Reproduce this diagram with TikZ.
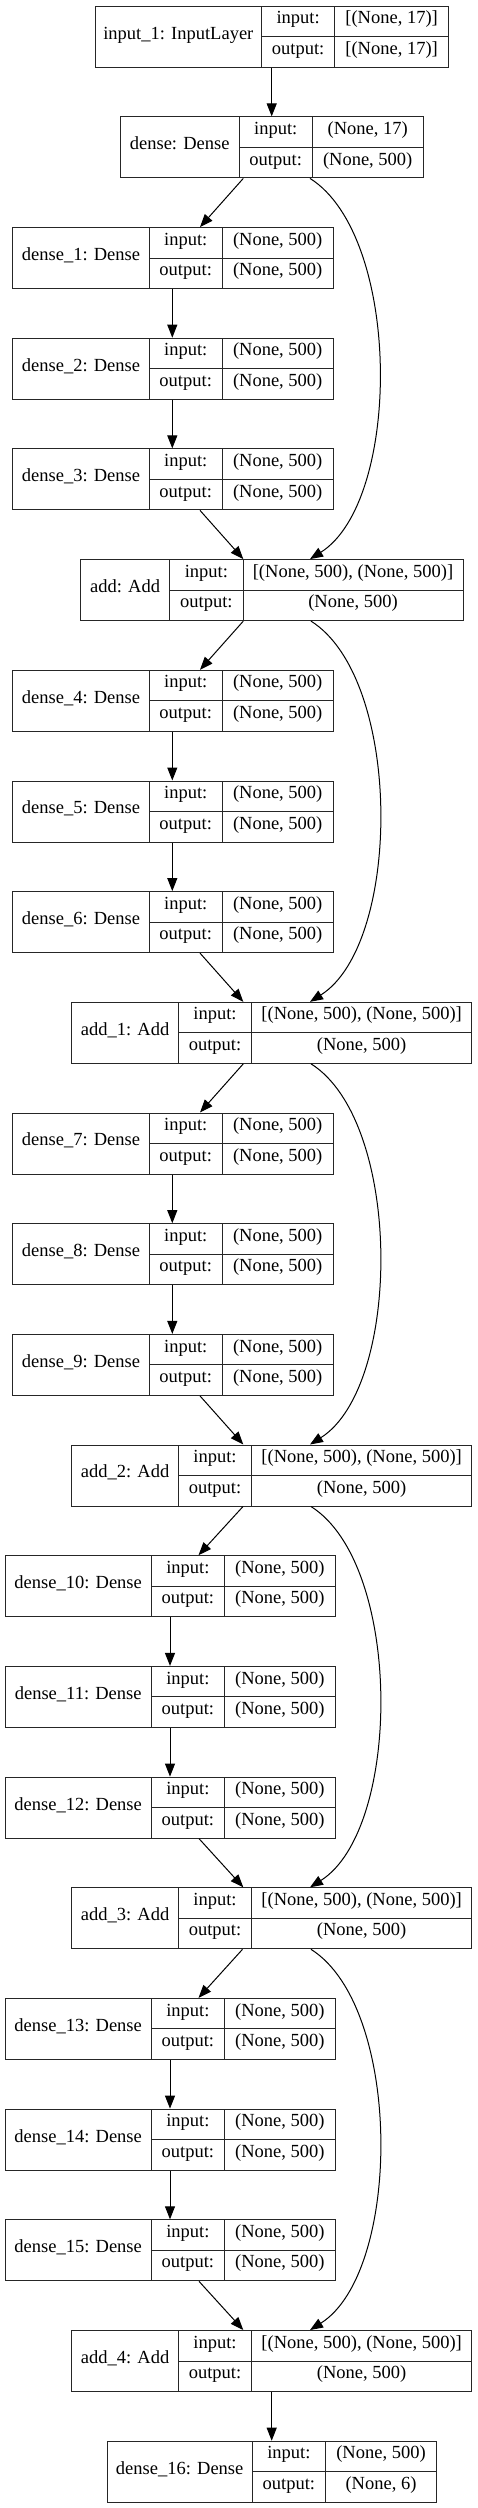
\documentclass[tikz,border=0pt]{standalone}
\usepackage{fontspec}
\setmainfont{Liberation Serif}
\usetikzlibrary{arrows.meta}
\tikzset{
  cell/.style={draw=black!85, line width=1pt, inner sep=0pt,
    font=\fontsize{18.5}{20}\selectfont, text height=0.7em, text depth=0.22em},
  arr/.style={draw=black, line width=1pt, -{Triangle[length=13pt,width=10pt]}},
}
% #1 id, #2 top, #3 x0, #4 x1, #5 x2, #6 x3, #7 label, #8 input, #9 output
\newcommand\klayer[9]{%
  \node[cell, minimum width={#4-#3}, minimum height=61, anchor=north west] (#1) at (#3,#2) {#7};
  \node[cell, minimum width={#5-#4}, minimum height=30.5, anchor=north west] (#1-il) at (#4,#2) {input:};
  \node[cell, minimum width={#5-#4}, minimum height=30.5, anchor=north west] (#1-ol) at (#4,#2+30.5) {output:};
  \node[cell, minimum width={#6-#5}, minimum height=30.5, anchor=north west] (#1-iv) at (#5,#2) {#8};
  \node[cell, minimum width={#6-#5}, minimum height=30.5, anchor=north west] (#1-ov) at (#5,#2+30.5) {#9};
}
\newcommand\denseA[3]{\klayer{#1}{#2}{12.3}{148.7}{221.7}{332.7}{#3}{(None, 500)}{(None, 500)}}
\newcommand\denseB[3]{\klayer{#1}{#2}{4.7}{150.7}{224}{334.7}{#3}{(None, 500)}{(None, 500)}}
\newcommand\addK[3]{\klayer{#1}{#2}{71.3}{178}{251}{471.3}{#3}{[(None, 500), (None, 500)]}{(None, 500)}}
\begin{document}
\begin{tikzpicture}[x=1pt, y=-1pt]
\useasboundingbox (0,0) rectangle (477,2508);
\klayer{in1}{5.7}{94.7}{261}{334.3}{448}{input\_1: InputLayer}{[(None, 17)]}{[(None, 17)]}
\klayer{d0}{116.4}{119.7}{238.7}{311.7}{422.7}{dense: Dense}{(None, 17)}{(None, 500)}
\denseA{d1}{227.1}{dense\_1: Dense}
\denseA{d2}{337.7}{dense\_2: Dense}
\denseA{d3}{448.4}{dense\_3: Dense}
\klayer{a0}{559.1}{80}{169.3}{242.5}{462.5}{add: Add}{[(None, 500), (None, 500)]}{(None, 500)}
\denseA{d4}{669.8}{dense\_4: Dense}
\denseA{d5}{780.5}{dense\_5: Dense}
\denseA{d6}{891.1}{dense\_6: Dense}
\addK{a1}{1001.8}{add\_1: Add}
\denseA{d7}{1112.5}{dense\_7: Dense}
\denseA{d8}{1223.2}{dense\_8: Dense}
\denseA{d9}{1333.9}{dense\_9: Dense}
\addK{a2}{1444.5}{add\_2: Add}
\denseB{d10}{1555.2}{dense\_10: Dense}
\denseB{d11}{1665.9}{dense\_11: Dense}
\denseB{d12}{1776.6}{dense\_12: Dense}
\addK{a3}{1887.3}{add\_3: Add}
\denseB{d13}{1997.9}{dense\_13: Dense}
\denseB{d14}{2108.6}{dense\_14: Dense}
\denseB{d15}{2219.3}{dense\_15: Dense}
\addK{a4}{2330.0}{add\_4: Add}
\klayer{d16}{2440.7}{106.7}{251.7}{325}{436}{dense\_16: Dense}{(None, 500)}{(None, 6)}
% connectors
\draw[arr] (in1-ol.south -| 271.7,0) -- (d0-il.north -| 271.7,0);
\draw[arr] (d0-ol.south -| 243.3,0) -- (d1-il.north -| 200,0);
\draw[arr] (d0-ov.south -| 310,0) .. controls +(92,58) and +(92,-58) .. (a0-iv.north -| 310,0);
\draw[arr] (d1-ol.south -| 172.3,0) -- (d2-il.north -| 172.3,0);
\draw[arr] (d2-ol.south -| 172.3,0) -- (d3-il.north -| 172.3,0);
\draw[arr] (d3-ol.south -| 200,0) -- (a0-iv.north -| 243.3,0);
%
\draw[arr] (a0-ol.south -| 243.3,0) -- (d4-il.north -| 200,0);
\draw[arr] (a0-ov.south -| 311,0) .. controls +(92,58) and +(92,-58) .. (a1-iv.north -| 310,0);
\draw[arr] (d4-ol.south -| 172.3,0) -- (d5-il.north -| 172.3,0);
\draw[arr] (d5-ol.south -| 172.3,0) -- (d6-il.north -| 172.3,0);
\draw[arr] (d6-ol.south -| 200,0) -- (a1-iv.north -| 243.3,0);
%
\draw[arr] (a1-ol.south -| 243.3,0) -- (d7-il.north -| 200,0);
\draw[arr] (a1-ov.south -| 311,0) .. controls +(92,58) and +(92,-58) .. (a2-iv.north -| 310,0);
\draw[arr] (d7-ol.south -| 172.3,0) -- (d8-il.north -| 172.3,0);
\draw[arr] (d8-ol.south -| 172.3,0) -- (d9-il.north -| 172.3,0);
\draw[arr] (d9-ol.south -| 200,0) -- (a2-iv.north -| 243.3,0);
%
\draw[arr] (a2-ol.south -| 243,0) -- (d10-il.north -| 198.5,0);
\draw[arr] (a2-ov.south -| 311,0) .. controls +(92,58) and +(92,-58) .. (a3-iv.north -| 310,0);
\draw[arr] (d10-ol.south -| 170,0) -- (d11-il.north -| 170,0);
\draw[arr] (d11-ol.south -| 170,0) -- (d12-il.north -| 170,0);
\draw[arr] (d12-ol.south -| 199,0) -- (a3-iv.north -| 243.3,0);
%
\draw[arr] (a3-ol.south -| 242.5,0) -- (d13-il.north -| 198.5,0);
\draw[arr] (a3-ov.south -| 311,0) .. controls +(92,58) and +(92,-58) .. (a4-iv.north -| 310,0);
\draw[arr] (d13-ol.south -| 170,0) -- (d14-il.north -| 170,0);
\draw[arr] (d14-ol.south -| 170,0) -- (d15-il.north -| 170,0);
\draw[arr] (d15-ol.south -| 199,0) -- (a4-iv.north -| 243.3,0);
%
\draw[arr] (a4-ol.south -| 271.7,0) -- (d16-il.north -| 271.7,0);
\end{tikzpicture}
\end{document}
